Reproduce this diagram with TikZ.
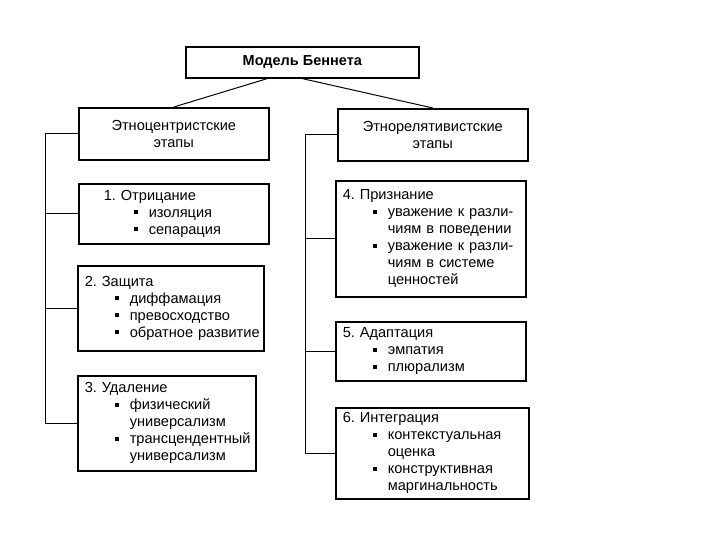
\documentclass[tikz,border=0pt]{standalone}
\usepackage{fontspec}
\setmainfont{Liberation Sans}
\frenchspacing
\newcommand{\bul}[1]{\hspace*{30pt}\makebox[15pt][l]{\rule[3pt]{4pt}{4pt}}\mbox{#1}}
\newcommand{\cnt}[1]{\hspace*{45pt}\mbox{#1}}

\begin{document}
\begin{tikzpicture}[x=1pt,y=-1pt,
    box/.style={draw,line width=1.6pt,anchor=north west,font=\fontsize{14.6}{17}\selectfont},
    stage/.style={box,align=left,inner xsep=7pt},
    hdr/.style={box,align=center,minimum width=190pt,minimum height=52pt},
    link/.style={line width=1pt}]
    \useasboundingbox (0,0) rectangle (720,540);
    \node[box,font=\bfseries\fontsize{14.5}{16}\selectfont,minimum width=233pt,minimum height=31pt] (bennet) at (185,46) {Модель Беннета};
    \node[hdr] (ethno) at (78,107) {Этноцентристские\\этапы};
    \node[hdr] (rel) at (337,108) {Этнорелятивистские\\этапы};
    \node[stage,inner xsep=25pt,text width=140pt,minimum height=60pt] (s1) at (78,183)
        {1. Отрицание\\\bul{изоляция}\\\bul{сепарация}};
    \node[stage,text width=172pt,minimum height=85pt] (s2) at (77,265)
        {2. Защита\\\bul{диффамация}\\\bul{превосходство}\\\bul{обратное развитие}};
    \node[stage,text width=164pt,minimum height=95pt] (s3) at (77,375)
        {3. Удаление\\\bul{физический}\\\cnt{универсализм}\\\bul{трансцендентный}\\\cnt{универсализм}};
    \node[stage,text width=176pt,minimum height=116pt] (s4) at (335,180)
        {4. Признание\\\bul{уважение к разли-}\\\cnt{чиям в поведении}\\\bul{уважение к разли-}\\\cnt{чиям в системе}\\\cnt{ценностей}};
    \node[stage,text width=176pt,minimum height=59pt] (s5) at (335,321)
        {5. Адаптация\\\bul{эмпатия}\\\bul{плюрализм}};
    \node[stage,text width=179pt,minimum height=91pt] (s6) at (335,407)
        {6. Интеграция\\\bul{контекстуальная}\\\cnt{оценка}\\\bul{конструктивная}\\\cnt{маргинальность}};
    \draw[link] ([xshift=-35pt]bennet.south) -- (ethno.north);
    \draw[link] (bennet.south) -- (rel.north);
    \foreach \s in {s1,s2,s3}
        \draw[link] (ethno.west) -- ++(-33,0) |- (\s.west);
    \foreach \s in {s4,s5,s6}
        \draw[link] (rel.west) -- ++(-32,0) |- (\s.west);
\end{tikzpicture}
\end{document}
